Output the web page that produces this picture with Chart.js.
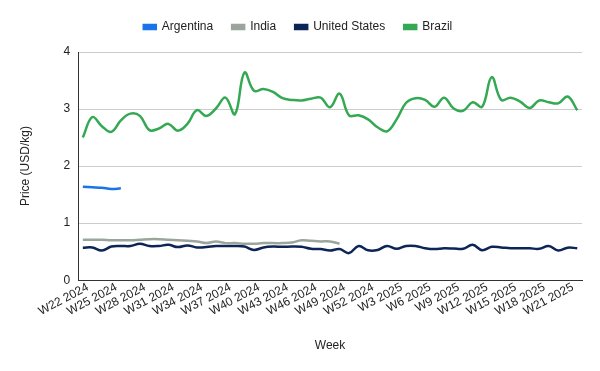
<!DOCTYPE html>
<html>
<head>
<meta charset="utf-8">
<script src="https://cdn.jsdelivr.net/npm/chart.js@4"></script>
<style>
  html, body { margin: 0; padding: 0; background: #fff; }
  #wrap { width: 600px; height: 371px; }
</style>
</head>
<body>
<div id="wrap"><canvas id="priceChart" width="600" height="371"></canvas></div>
<script>
const weeks = [
  "W22 2024", "W23 2024", "W24 2024", "W25 2024", "W26 2024", "W27 2024", "W28 2024",
  "W29 2024", "W30 2024", "W31 2024", "W32 2024", "W33 2024", "W34 2024", "W35 2024",
  "W36 2024", "W37 2024", "W38 2024", "W39 2024", "W40 2024", "W41 2024", "W42 2024",
  "W43 2024", "W44 2024", "W45 2024", "W46 2024", "W47 2024", "W48 2024", "W49 2024",
  "W50 2024", "W51 2024", "W52 2024", "W1 2025", "W2 2025", "W3 2025", "W4 2025",
  "W5 2025", "W6 2025", "W7 2025", "W8 2025", "W9 2025", "W10 2025", "W11 2025",
  "W12 2025", "W13 2025", "W14 2025", "W15 2025", "W16 2025", "W17 2025", "W18 2025",
  "W19 2025", "W20 2025", "W21 2025", "W22 2025"
];

const argentina = [1.64, 1.63, 1.62, 1.60, 1.61];

const india = [
  0.71, 0.71, 0.71, 0.70, 0.70, 0.70, 0.71, 0.72, 0.72, 0.71,
  0.70, 0.69, 0.68, 0.65, 0.68, 0.65, 0.65, 0.64, 0.64, 0.65,
  0.65, 0.65, 0.66, 0.70, 0.69, 0.68, 0.68, 0.64
];

const unitedStates = [
  0.57, 0.575, 0.52, 0.59, 0.60, 0.60, 0.64, 0.60, 0.60, 0.62,
  0.58, 0.61, 0.575, 0.58, 0.60, 0.60, 0.60, 0.59, 0.53, 0.575,
  0.59, 0.585, 0.59, 0.585, 0.55, 0.545, 0.52, 0.545, 0.475, 0.60,
  0.525, 0.53, 0.60, 0.55, 0.60, 0.60, 0.56, 0.545, 0.56, 0.555,
  0.55, 0.62, 0.525, 0.585, 0.575, 0.56, 0.56, 0.56, 0.55, 0.60,
  0.52, 0.57, 0.56
];

const brazil = [
  2.50, 2.86, 2.70, 2.60, 2.80, 2.92, 2.88, 2.63, 2.66, 2.74,
  2.62, 2.74, 2.98, 2.88, 3.01, 3.20, 2.91, 3.64, 3.32, 3.35,
  3.30, 3.19, 3.16, 3.15, 3.18, 3.20, 3.03, 3.27, 2.89, 2.89,
  2.82, 2.68, 2.61, 2.82, 3.11, 3.19, 3.16, 3.04, 3.20, 3.01,
  2.97, 3.12, 3.04, 3.56, 3.16, 3.20, 3.13, 3.02, 3.15, 3.12,
  3.10, 3.22, 2.98
];

const yTicks = [0, 1, 2, 3, 4];

const fontFamily = '"Liberation Sans", Arial, sans-serif';
const textColor = "#222";

function line(label, data, color) {
  return {
    label: label,
    data: data,
    borderColor: color,
    backgroundColor: color,
    borderWidth: 2.5,
    pointRadius: 0,
    pointHoverRadius: 0,
    tension: 0.4,
    fill: false,
  };
}

// keep the legend band the same height as the reference
const legendHeight = {
  id: "legendHeight",
  beforeInit(chart) {
    const fit = chart.legend.fit;
    chart.legend.fit = function () {
      fit.call(this);
      this.height = 50;
    };
  }
};

const ctx = document.getElementById("priceChart").getContext("2d");
new Chart(ctx, {
  type: "line",
  data: {
    labels: weeks,
    datasets: [
      line("Argentina", argentina, "#1a73e8"),
      line("India", india, "#9aa59c"),
      line("United States", unitedStates, "#0d2457"),
      line("Brazil", brazil, "#34a853"),
    ]
  },
  plugins: [legendHeight],
  options: {
    responsive: false,
    animation: false,
    layout: { padding: { left: 14, right: 18, top: 2, bottom: 14 } },
    plugins: {
      legend: {
        position: "top",
        labels: {
          boxWidth: 12,
          boxHeight: 4,
          padding: 19,
          color: textColor,
          font: { family: fontFamily, size: 12 },
        }
      },
      tooltip: { enabled: false },
    },
    scales: {
      x: {
        offset: true,
        grid: { display: false, drawTicks: false },
        border: { color: "#333", width: 1 },
        title: {
          display: true,
          text: "Week",
          color: textColor,
          font: { family: fontFamily, size: 12 },
          padding: { top: 20 },
        },
        ticks: {
          autoSkip: false,
          minRotation: 28,
          maxRotation: 28,
          padding: 0,
          labelOffset: 5,
          color: textColor,
          font: { family: fontFamily, size: 12 },
          callback: (val, i) => (i % 3 === 0 ? weeks[i] : ""),
        },
      },
      y: {
        min: yTicks[0],
        max: yTicks[yTicks.length - 1],
        afterBuildTicks: (scale) => {
          scale.ticks = yTicks.map((v) => ({ value: v }));
        },
        grid: { color: "#cccccc", drawTicks: false },
        border: { color: "#333", width: 1 },
        title: {
          display: true,
          text: "Price (USD/kg)",
          color: textColor,
          font: { family: fontFamily, size: 12 },
          padding: { bottom: 23 },
        },
        ticks: {
          padding: 8,
          color: textColor,
          font: { family: fontFamily, size: 12 },
        },
      }
    }
  }
});
</script>
</body>
</html>
